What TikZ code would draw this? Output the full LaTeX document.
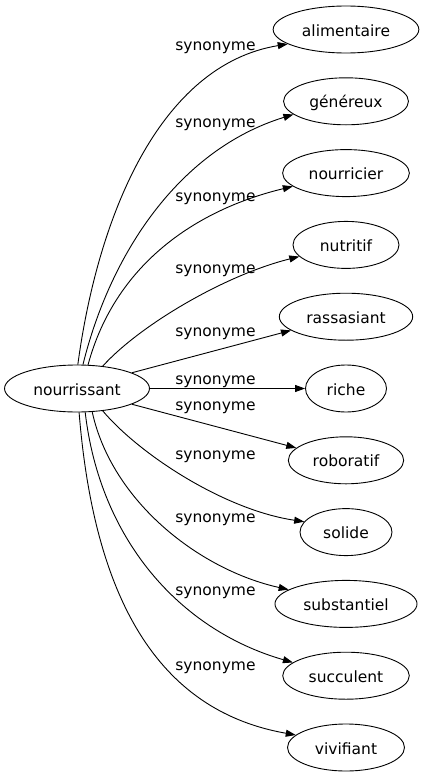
\documentclass[tikz,border=0pt]{standalone}
\usepackage{fontspec}
\setmainfont{DejaVu Sans}
\usetikzlibrary{arrows.meta,shapes}

\begin{document}
\begin{tikzpicture}[
		x=1pt,y=-1pt,
		word/.style = {
			ellipse,draw,minimum height=47pt,
			inner xsep=7.5pt,inner ysep=0pt,
			text height=14pt,text depth=1pt,
			font=\fontsize{15.5}{18}\selectfont
		},
		relation/.style = {
			anchor=base,inner sep=0pt,
			font=\fontsize{15.5}{18}\selectfont
		},
		>={Triangle[length=10pt,width=7pt]},line width=0.9pt,black]
	\useasboundingbox (0,0) rectangle (425,779);
	\node [word] (nourrissant)	at (77,388.5)	{nourrissant};
	\node [word] (alimentaire)	at (346,29.5)	{alimentaire};
	\node [word] (genereux)		at (346,101.3)	{généreux};
	\node [word] (nourricier)	at (346,173.1)	{nourricier};
	\node [word,minimum width=106pt] (nutritif)	at (346,244.9)	{nutritif};
	\node [word] (rassasiant)	at (346,316.7)	{rassasiant};
	\node [word,minimum width=81pt] (riche)	at (346,388.5)	{riche};
	\node [word] (roboratif)	at (346,460.3)	{roboratif};
	\node [word,minimum width=92pt] (solide)	at (346,532.1)	{solide};
	\node [word] (substantiel)	at (346,603.9)	{substantiel};
	\node [word] (succulent)	at (346,675.7)	{succulent};
	\node [word,minimum width=117pt] (vivifiant)	at (346,747.5)	{vivifiant};
	\node [relation] (syn1)		at (215.5,50)	{synonyme};
	\node [relation] (syn2)		at (215.5,127)	{synonyme};
	\node [relation] (syn3)		at (215.5,201.5)	{synonyme};
	\node [relation] (syn4)		at (215.5,273)	{synonyme};
	\node [relation] (syn5)		at (215.5,336)	{synonyme};
	\node [relation] (syn6)		at (215.5,384)	{synonyme};
	\node [relation] (syn7)		at (215.5,410.7)	{synonyme};
	\node [relation] (syn8)		at (215.5,459)	{synonyme};
	\node [relation] (syn9)		at (215.5,522)	{synonyme};
	\node [relation] (syn10)	at (215.5,595.5)	{synonyme};
	\node [relation] (syn11)	at (215.5,670)	{synonyme};
	\draw [->] (nourrissant.88) .. controls (98,215) and (160,65) .. (alimentaire.194);
	\draw [->] (nourrissant.76) .. controls (110,255) and (178,150) .. (genereux.194);
	\draw [->] (nourrissant.65) .. controls (115,265) and (195,210) .. (nourricier.194);
	\draw [->] (nourrissant.41) .. controls (140,325) and (225,275) .. (nutritif.194);
	\draw [->] (nourrissant.16) -- (rassasiant.194);
	\draw [->] (nourrissant.east) -- (riche.west);
	\draw [->] (nourrissant.-16) -- (roboratif.166);
	\draw [->] (nourrissant.-41) .. controls (140,455) and (225,510) .. (solide.166);
	\draw [->] (nourrissant.-57) .. controls (112,502) and (200,570) .. (substantiel.166);
	\draw [->] (nourrissant.-71) .. controls (100,540) and (180,630) .. (succulent.166);
	\draw [->] (nourrissant.-85) .. controls (95,610) and (165,712) .. (vivifiant.166);
\end{tikzpicture}
\end{document}
